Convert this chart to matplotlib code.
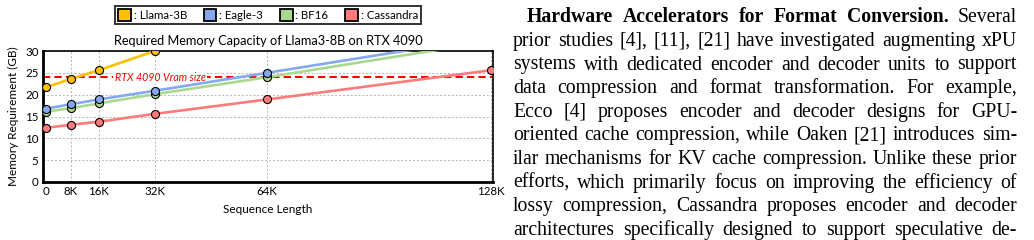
import matplotlib
matplotlib.use('Agg')
import matplotlib.pyplot as plt
from matplotlib.patches import Patch

# data (GB), sequence length in K tokens
seq_len = [1, 8, 16, 32, 64, 128]
tick_labels = ['0', '8K', '16K', '32K', '64K', '128K']
llama_x = [1, 8, 16, 32]
llama_3b = [21.7, 23.6, 25.6, 30.0]
eagle_3 = [16.8, 17.8, 18.9, 20.9, 25.0, 33.2]
bf16 = [16.1, 16.9, 18.0, 20.1, 24.0, 32.2]
cassandra = [12.4, 13.1, 13.8, 15.6, 18.9, 25.6]
vram_limit = 24

yellow = '#FFC000'
blue = '#86A8EE'
green = '#A9D98E'
red = '#FF7A7A'

W, H = 1034, 240
fig = plt.figure(figsize=(W / 100, H / 100), dpi=100)
plt.rcParams['font.family'] = ['Lato', 'DejaVu Sans']

ax = fig.add_axes([42.7 / W, 1 - 182 / H, (493 - 42.7) / W, (182 - 51) / H])

mk = dict(marker='o', markersize=5.8, markeredgecolor='black', markeredgewidth=0.8)
ax.plot(seq_len, bf16, color=green, lw=1.9, zorder=3, **mk)
ax.plot(seq_len, eagle_3, color=blue, lw=1.9, zorder=4, **mk)
ax.plot(llama_x, llama_3b, color=yellow, lw=1.9, zorder=4, **mk)
ax.plot(seq_len, cassandra, color=red, lw=1.9, zorder=4, **mk)

ax.axhline(vram_limit, color='#FF0000', lw=1.5, ls=(0, (3.5, 2)), zorder=2)
ax.text(20.5, vram_limit, 'RTX 4090 Vram size', color='#FF0000', style='italic',
        fontsize=7.7, va='center', ha='left', zorder=2.5,
        bbox=dict(facecolor='white', edgecolor='none', pad=1.0))

ax.set_xlim(0, 128.5)
ax.set_ylim(0, 30)
ax.set_xticks(seq_len)
ax.set_xticklabels(tick_labels)
ax.set_yticks(range(0, 31, 5))
ax.tick_params(length=0, labelsize=8.3, pad=3)
ax.grid(True, color='#b5b5b5', ls=(0, (2, 2)), lw=0.7)
ax.xaxis.get_gridlines()[0].set_visible(False)
ax.set_axisbelow(True)
for s in ax.spines.values():
    s.set_linewidth(1.2)
ax.spines['left'].set_linewidth(2)
ax.spines['bottom'].set_linewidth(2)

ax.set_xlabel('Sequence Length', fontsize=8.5, labelpad=5)
ax.set_ylabel('Memory Requirement (GB)', fontsize=8.5, labelpad=4)
ax.set_title('Required Memory Capacity of Llama3-8B on RTX 4090', fontsize=9.2, pad=4)

handles = [Patch(facecolor=c, edgecolor='black', lw=1.3) for c in [yellow, blue, green, red]]
labels = [': Llama-3B', ': Eagle-3', ': BF16', ': Cassandra']
leg = fig.legend(handles, labels, loc='upper center', ncol=4,
                 bbox_to_anchor=((115 + 421) / 2 / W, 1 - 6 / H),
                 fontsize=8.3, frameon=True, fancybox=False, edgecolor='black',
                 handlelength=1.1, handleheight=1.1, handletextpad=0.25,
                 columnspacing=1.45, borderpad=0.3, borderaxespad=0)
leg.get_frame().set_linewidth(1.4)

# paragraph text on the right, justified by hand
lines = [
    [('Hardware Accelerators for Format Conversion.', 'bold'), ('Several', 'normal')],
    'prior studies [4], [11], [21] have investigated augmenting xPU',
    'systems with dedicated encoder and decoder units to support',
    'data compression and format transformation. For example,',
    'Ecco [4] proposes encoder and decoder designs for GPU-',
    'oriented cache compression, while Oaken [21] introduces sim-',
    'ilar mechanisms for KV cache compression. Unlike these prior',
    'efforts, which primarily focus on improving the efficiency of',
    'lossy compression, Cassandra proposes encoder and decoder',
    'architectures specifically designed to support speculative de-',
]
left, right = 513, 1017
first_base, step = 22.3, 23.6
renderer = fig.canvas.get_renderer()
for i, line in enumerate(lines):
    if isinstance(line, str):
        words = [(w, 'normal') for w in line.split()]
    else:
        words = [(w, wt) for part, wt in line for w in part.split()]
    x0 = 527 if i == 0 else left
    yb = 1 - (first_base + step * i) / H
    texts = [fig.text(0, yb, w, fontsize=14.2, fontweight=wt, va='baseline',
                      family='Liberation Serif') for w, wt in words]
    widths = [t.get_window_extent(renderer).width for t in texts]
    gap = (right - x0 - sum(widths)) / (len(texts) - 1)
    x = x0
    for t, w in zip(texts, widths):
        t.set_x(x / W)
        x += w + gap

fig.savefig('out.png', dpi=100)
